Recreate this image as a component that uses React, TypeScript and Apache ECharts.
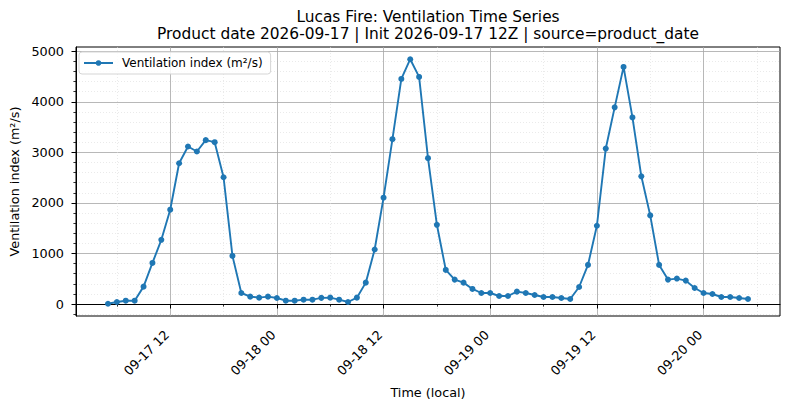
import React from 'react';
import * as echarts from 'echarts';

// hourly ventilation index, starting 09-17 05:00 local
const startHour = 5;
const ventValues = [
  5, 40, 66, 66, 344, 813, 1270, 1865, 2784, 3115, 3016, 3241, 3201, 2507, 952, 218,
  146, 126, 146, 119, 66, 66, 86, 86, 122, 126, 86, 40, 126, 423, 1078, 2103,
  3260, 4451, 4841, 4491, 2884, 1567, 675, 483, 423, 298, 218, 218, 159, 159, 245, 218,
  179, 139, 139, 119, 99, 337, 774, 1548, 3075, 3889, 4689, 3690, 2526, 1753, 774, 483,
  503, 463, 317, 218, 198, 139, 139, 119, 99,
];

// ticks (hours since 09-17 00:00)
const xMajorTicks = [12, 24, 36, 48, 60, 72];
const xMinorTicks = [6, 18, 30, 42, 54, 66, 78];
const yMajorTicks = [0, 1000, 2000, 3000, 4000, 5000];
const yMinorTicks = [
  -200, 200, 400, 600, 800, 1200, 1400, 1600, 1800, 2200, 2400, 2600, 2800,
  3200, 3400, 3600, 3800, 4200, 4400, 4600, 4800,
];

const titleText =
  'Lucas Fire: Ventilation Time Series\nProduct date 2026-09-17 | Init 2026-09-17 12Z | source=product_date';
const seriesName = 'Ventilation index (m²/s)';

const FONT = "'DejaVu Sans', sans-serif";
const LINE_COLOR = '#1f77b4';

const fmtHour = (v: number) => {
  const day = 17 + Math.floor(v / 24);
  const hh = ((v % 24) + 24) % 24;
  return `09-${day} ${String(hh).padStart(2, '0')}`;
};

const App: React.FC = () => {
  const chartRef = React.useRef<HTMLDivElement>(null);

  React.useEffect(() => {
    if (!chartRef.current) return;
    document.body.style.margin = '0';

    const chart = echarts.init(chartRef.current, undefined, { renderer: 'svg' });

    const points = ventValues.map((v, i) => [startHour + i, v]);
    const xFirst = startHour;
    const xLast = startHour + ventValues.length - 1;
    const xPad = (xLast - xFirst) * 0.05;
    const yMin = Math.min(...ventValues);
    const yMax = Math.max(...ventValues);
    const yPad = (yMax - yMin) * 0.05;

    const xBase = {
      type: 'value',
      min: xFirst - xPad,
      max: xLast + xPad,
      position: 'bottom',
    };
    const yBase = {
      type: 'value',
      min: yMin - yPad,
      max: yMax + yPad,
      position: 'left',
    };

    const option = {
      animation: false,
      textStyle: { fontFamily: FONT },
      title: {
        text: titleText,
        left: 428,
        textAlign: 'center',
        top: 8,
        padding: 0,
        textStyle: {
          fontFamily: FONT,
          fontSize: 15.4,
          fontWeight: 'normal',
          color: '#000',
          lineHeight: 17.5,
        },
      },
      legend: {
        left: 79,
        top: 52,
        padding: [5, 8, 5, 4],
        itemWidth: 29,
        itemHeight: 7,
        borderColor: '#d5d5d5',
        borderWidth: 1,
        borderRadius: 3,
        backgroundColor: 'rgba(255,255,255,0.85)',
        textStyle: {
          fontFamily: FONT,
          fontSize: 12,
          color: '#000',
          padding: [0, 0, 0, 4],
        },
        data: [seriesName],
      },
      grid: {
        left: 76,
        right: 10,
        top: 47,
        bottom: 93,
        outerBoundsMode: 'none',
        containLabel: false,
        show: true,
        borderColor: '#000',
        borderWidth: 1,
        backgroundColor: 'transparent',
      },
      xAxis: [
        {
          ...xBase,
          name: 'Time (local)',
          nameLocation: 'middle',
          nameGap: 70,
          nameTextStyle: { fontFamily: FONT, fontSize: 12.8, color: '#000' },
          axisLine: { show: true, lineStyle: { color: '#000', width: 1 } },
          axisTick: {
            show: true,
            length: 4.5,
            customValues: xMajorTicks,
            lineStyle: { color: '#000', width: 1 },
          },
          axisLabel: {
            customValues: xMajorTicks,
            rotate: 45,
            margin: 13,
            padding: [0, 5, 0, 0],
            fontFamily: FONT,
            fontSize: 12.8,
            color: '#000',
            formatter: (v: number) => fmtHour(v),
          },
          splitLine: {
            show: true,
            lineStyle: { color: '#a6a6a6', width: 0.8 },
          },
        },
        {
          ...xBase,
          axisLine: { show: false },
          axisTick: {
            show: true,
            length: 2.6,
            customValues: xMinorTicks,
            lineStyle: { color: '#000', width: 0.8 },
          },
          axisLabel: { show: false, customValues: xMinorTicks },
          splitLine: {
            show: true,
            lineStyle: { color: '#dcdcdc', width: 0.6, type: [1, 2] },
          },
        },
      ],
      yAxis: [
        {
          ...yBase,
          name: 'Ventilation index (m²/s)',
          nameLocation: 'middle',
          nameGap: 46,
          nameTextStyle: { fontFamily: FONT, fontSize: 12.8, color: '#000' },
          axisLine: { show: true, lineStyle: { color: '#000', width: 1 } },
          axisTick: {
            show: true,
            length: 4.5,
            customValues: yMajorTicks,
            lineStyle: { color: '#000', width: 1 },
          },
          axisLabel: {
            customValues: yMajorTicks,
            margin: 12,
            fontFamily: FONT,
            fontSize: 12.8,
            color: '#000',
            formatter: (v: number) => String(v),
          },
          splitLine: {
            show: true,
            lineStyle: { color: '#a6a6a6', width: 0.8 },
          },
        },
        {
          ...yBase,
          axisLine: { show: false },
          axisTick: {
            show: true,
            length: 2.6,
            customValues: yMinorTicks,
            lineStyle: { color: '#000', width: 0.8 },
          },
          axisLabel: { show: false, customValues: yMinorTicks },
          splitLine: {
            show: true,
            lineStyle: { color: '#dcdcdc', width: 0.6, type: [1, 2] },
          },
        },
      ],
      series: [
        {
          name: seriesName,
          type: 'line',
          xAxisIndex: 0,
          yAxisIndex: 0,
          data: points,
          symbol: 'circle',
          symbolSize: 6,
          showSymbol: true,
          lineStyle: { color: LINE_COLOR, width: 1.9 },
          itemStyle: { color: LINE_COLOR },
          z: 5,
        },
      ],
    };

    chart.setOption(option as any);

    const handleResize = () => chart.resize();
    window.addEventListener('resize', handleResize);
    return () => {
      window.removeEventListener('resize', handleResize);
      chart.dispose();
    };
  }, []);

  return <div ref={chartRef} style={{ width: '790px', height: '409px' }} />;
};

export default App;
